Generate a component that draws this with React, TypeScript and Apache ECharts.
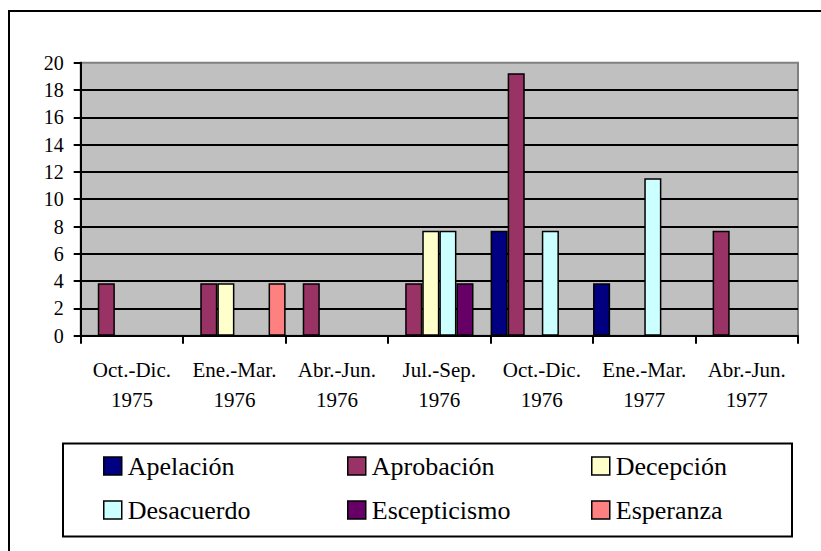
import React, { useEffect, useRef } from "react";
import * as echarts from "echarts";

const categories = [
  "Oct.-Dic.\n1975",
  "Ene.-Mar.\n1976",
  "Abr.-Jun.\n1976",
  "Jul.-Sep.\n1976",
  "Oct.-Dic.\n1976",
  "Ene.-Mar.\n1977",
  "Abr.-Jun.\n1977",
];

const seriesNames = ["Apelación", "Aprobación", "Decepción", "Desacuerdo", "Escepticismo", "Esperanza"];
const seriesColors = ["#000080", "#993366", "#FFFFCC", "#CCFFFF", "#660066", "#FF8080"];

const apelacion = [null, null, null, null, 7.69, 3.85, null];
const aprobacion = [3.85, 3.85, 3.85, 3.85, 19.23, null, 7.69];
const decepcion = [null, 3.85, null, 7.69, null, null, null];
const desacuerdo = [null, null, null, 7.69, 7.69, 11.54, null];
const escepticismo = [null, null, null, 3.85, null, null, null];
const esperanza = [null, 3.85, null, null, null, null, null];

const seriesValues = [apelacion, aprobacion, decepcion, desacuerdo, escepticismo, esperanza];

const yMin = 0;
const yMax = 20;
const yInterval = 2;

const FONT = "Liberation Serif";

export default function App() {
  const ref = useRef<HTMLDivElement>(null);

  useEffect(() => {
    document.body.style.margin = "0";
    if (!ref.current) return;
    const chart = echarts.init(ref.current, undefined, { renderer: "svg" });

    const legendCols = [103, 347, 591];
    const legendRows = [453, 497];

    const option: any = {
      animation: false,
      backgroundColor: "#ffffff",
      textStyle: { fontFamily: FONT, color: "#000" },
      grid: {
        left: 80.7,
        right: 23,
        top: 62.7,
        bottom: 215.3,
        show: true,
        backgroundColor: "#C0C0C0",
        borderColor: "#808080",
        borderWidth: 2,
      },
      xAxis: {
        type: "category",
        data: categories,
        axisLine: { show: true, lineStyle: { color: "#000", width: 2 } },
        axisTick: { show: true, length: 8, lineStyle: { color: "#000", width: 2 } },
        axisLabel: {
          color: "#000",
          fontFamily: FONT,
          fontSize: 21,
          lineHeight: 30,
          margin: 19,
          interval: 0,
        },
        splitLine: { show: false },
      },
      yAxis: {
        type: "value",
        min: yMin,
        max: yMax,
        interval: yInterval,
        axisLine: { show: true, lineStyle: { color: "#000", width: 2 } },
        axisTick: { show: true, length: 7, lineStyle: { color: "#000", width: 2 } },
        axisLabel: {
          color: "#000",
          fontFamily: FONT,
          fontSize: 20,
          margin: 17,
        },
        splitLine: { show: true, showMaxLine: false, lineStyle: { color: "#000", width: 2 } },
      },
      legend: seriesNames.map((name, i) => ({
        data: [name],
        left: legendCols[i % 3],
        top: legendRows[Math.floor(i / 3)],
        padding: 0,
        itemWidth: 18,
        itemHeight: 18,
        icon: "rect",
        selectedMode: false,
        itemStyle: { borderColor: "#000", borderWidth: 1.5 },
        textStyle: {
          color: "#000",
          fontFamily: FONT,
          fontSize: 26,
          padding: [0, 0, 0, 1],
        },
      })),
      graphic: [
        {
          type: "rect",
          shape: { x: 9, y: 11, width: 900, height: 700 },
          style: { fill: "none", stroke: "#000", lineWidth: 2 },
          silent: true,
          z: 100,
        },
        {
          type: "rect",
          shape: { x: 63, y: 443.5, width: 729, height: 93 },
          style: { fill: "none", stroke: "#000", lineWidth: 2 },
          silent: true,
          z: 100,
        },
      ],
      series: seriesNames.map((name, i) => ({
        name,
        type: "bar",
        data: seriesValues[i],
        barGap: "0%",
        barCategoryGap: "0%",
        itemStyle: { color: seriesColors[i], borderColor: "#000", borderWidth: 1.5 },
      })),
    };

    chart.setOption(option);
    return () => chart.dispose();
  }, []);

  return <div ref={ref} style={{ width: 821, height: 551 }} />;
}
